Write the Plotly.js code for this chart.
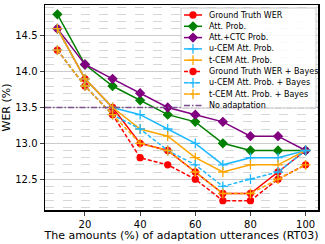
<!DOCTYPE html>
<html><head><meta charset="utf-8">
<script src="https://cdn.plot.ly/plotly-3.0.1.min.js"></script>
<style>html,body{margin:0;padding:0;background:#fff}#c{width:325px;height:244px}</style>
</head><body><div id="c"></div>
<script>
var amounts = [10,20,30,40,50,60,70,80,90,100];
var gtWer   = [14.6,13.9,13.5,13.0,12.9,12.6,12.3,12.3,12.6,12.9];
var attProb = [14.8,14.1,13.8,13.6,13.4,13.3,13.0,12.9,12.9,12.9];
var attCtc  = [14.6,14.1,13.9,13.7,13.5,13.4,13.3,13.1,13.1,12.9];
var uCem    = [14.6,13.9,13.5,13.4,13.2,13.0,12.7,12.8,12.8,12.9];
var tCem    = [14.6,13.9,13.5,13.2,13.1,12.8,12.6,12.7,12.7,12.9];
var gtBayes = [14.3,13.8,13.4,12.8,12.7,12.5,12.2,12.2,12.5,12.7];
var uCemBayes = [14.3,13.8,13.4,13.2,12.9,12.7,12.4,12.5,12.6,12.9];
var tCemBayes = [14.3,13.8,13.4,13.0,12.9,12.6,12.3,12.3,12.5,12.7];
var noAdaptation = 13.5;
var seriesNames = ['Ground Truth WER','Att. Prob.','Att.+CTC Prob.','u-CEM Att. Prob.','t-CEM Att. Prob.',
  'Ground Truth WER + Bayes','u-CEM Att. Prob. + Bayes','t-CEM Att. Prob. + Bayes','No adaptation'];
var xRange = [5.5,104.5];
var yRange = [12.07,14.93];
var yTicks = [12.5,13.0,13.5,14.0,14.5];
var xTicks = [20,40,60,80,100];

var RED='#ff0000',GREEN='#008000',PURPLE='#800080',BLUE='#1fb8ff',ORANGE='#ffa500',NOAD='#7a4f8a';
var DASH='4px,2px', DASHDOT='6px,2px,1.5px,2px';
var styles = [
  {c:RED,s:'circle',d:'solid',z:6},{c:GREEN,s:'diamond',d:'solid',z:6.5},{c:PURPLE,s:'diamond',d:'solid',z:6.5},
  {c:BLUE,s:'cross-thin-open',d:'solid',z:7},{c:ORANGE,s:'cross-thin-open',d:'solid',z:7},
  {c:RED,s:'circle',d:DASH,z:6},{c:BLUE,s:'cross-thin-open',d:DASH,z:7},{c:ORANGE,s:'cross-thin-open',d:DASH,z:7},
  {c:NOAD,s:null,d:DASHDOT,z:0}
];
var series = [gtWer,attProb,attCtc,uCem,tCem,gtBayes,uCemBayes,tCemBayes];

function mk(st){ return {symbol:st.s,size:st.z,color:st.c,line:{color:st.c,width:1.3}}; }

var data = [];
series.forEach(function(y,i){
  var st=styles[i];
  data.push({x:amounts,y:y,name:seriesNames[i],type:'scatter',mode:'lines+markers',
    line:{color:st.c,width:1.5,dash:st.d},marker:mk(st)});
});
data.push({x:xRange,y:[noAdaptation,noAdaptation],name:seriesNames[8],type:'scatter',mode:'lines',
  line:{color:NOAD,width:1.5,dash:DASHDOT}});

// custom legend on an overlay axis in pixel units
var box = {x0:181,x1:316,y0:8,y1:108};
data.push({x:[box.x0,box.x1,box.x1,box.x0,box.x0],y:[box.y0,box.y0,box.y1,box.y1,box.y0],
  xaxis:'x2',yaxis:'y2',type:'scatter',mode:'lines',fill:'toself',
  fillcolor:'rgba(255,255,255,0.88)',line:{color:'#cccccc',width:1}});
var annotations=[];
seriesNames.forEach(function(n,i){
  var st=styles[i], ry=15+i*11.3;
  data.push({x:[184,202],y:[ry,ry],xaxis:'x2',yaxis:'y2',type:'scatter',mode:'lines',
    line:{color:st.c,width:1.5,dash:st.d}});
  if(st.s){
    data.push({x:[193],y:[ry],xaxis:'x2',yaxis:'y2',type:'scatter',mode:'markers',marker:mk(st)});
  }
  annotations.push({x:207,y:ry,xref:'x2',yref:'y2',text:n,showarrow:false,xanchor:'left',yanchor:'middle',
    font:{size:8,family:'DejaVu Sans',color:'#000'}});
});

var layout = {
  width:325,height:244,
  margin:{l:45,r:7,t:5,b:34},
  paper_bgcolor:'#fff',plot_bgcolor:'#fff',
  font:{family:'DejaVu Sans',color:'#000',size:10},
  showlegend:false,
  annotations:annotations,
  xaxis:{range:xRange,tickvals:xTicks,ticks:'outside',ticklen:4,tickwidth:1,
    showgrid:false,zeroline:false,showline:true,linecolor:'#000',linewidth:1.5,mirror:true,
    tickfont:{size:10},
    title:{text:'The amounts (%) of adaptation utterances (RT03)',font:{size:11},standoff:3}},
  yaxis:{range:yRange,tickvals:yTicks,ticktext:yTicks.map(function(v){return v.toFixed(1);}),
    ticks:'outside',ticklen:4,tickwidth:1,
    showgrid:true,gridcolor:'#cccccc',gridwidth:1,zeroline:false,
    showline:true,linecolor:'#000',linewidth:1.5,mirror:true,
    tickfont:{size:10},
    minor:{dtick:0.1,tick0:12.0,showgrid:true,gridcolor:'#cccccc',griddash:'dash',gridwidth:0.8},
    title:{text:'WER (%)',font:{size:11},standoff:6}},
  xaxis2:{overlaying:'x',range:[45,318],visible:false,fixedrange:true},
  yaxis2:{overlaying:'y',range:[210,5],visible:false,fixedrange:true}
};
Plotly.newPlot('c',data,layout,{staticPlot:true,displayModeBar:false});
</script></body></html>
